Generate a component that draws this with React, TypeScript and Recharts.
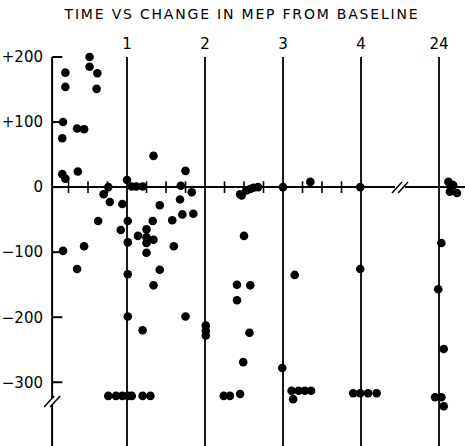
import { ScatterChart, Scatter, XAxis, YAxis, ReferenceLine, ReferenceDot } from "recharts";

// change in MEP (mmHg) vs time after dose (hours); 5 on the axis stands for 24 h
const OFF_SCALE = -321;

const firstHour: [number, number][] = [
  [0.21, 176], [0.21, 154], [0.18, 100], [0.17, 75], [0.17, 20], [0.21, 13],
  [0.37, 24], [0.36, 90], [0.45, 89], [0.52, 200], [0.52, 185], [0.62, 175],
  [0.61, 151], [0.76, 0], [0.7, -11], [0.78, -23], [0.94, -26], [0.63, -52],
  [0.92, -66], [0.18, -98], [0.36, -126], [0.45, -91],
  [0.76, OFF_SCALE], [0.86, OFF_SCALE], [0.94, OFF_SCALE],
];

const secondHour: [number, number][] = [
  [1.0, 11], [1.06, 1], [1.12, 1], [1.2, 1], [1.01, -52], [1.01, -85],
  [1.01, -134], [1.01, -199], [1.01, OFF_SCALE], [1.06, OFF_SCALE], [1.2, -220],
  [1.2, OFF_SCALE], [1.3, OFF_SCALE], [1.34, 48], [1.42, -28], [1.14, -75],
  [1.25, -65], [1.25, -77], [1.25, -86], [1.34, -81], [1.25, -101], [1.33, -52],
  [1.42, -127], [1.34, -151], [1.58, -51], [1.6, -91], [1.71, -42], [1.68, -19],
  [1.69, 2], [1.75, 25], [1.83, -8], [1.85, -41], [1.75, -199],
];

const thirdHour: [number, number][] = [
  [2.01, -213], [2.01, -221], [2.01, -228], [2.24, OFF_SCALE], [2.32, OFF_SCALE],
  [2.45, -318], [2.45, -11], [2.47, -13], [2.53, -5], [2.58, -3], [2.62, -1],
  [2.68, 0], [2.5, -75], [2.41, -150], [2.58, -151], [2.41, -174], [2.57, -224],
  [2.49, -269],
];

const fourthHour: [number, number][] = [
  [3.0, 0], [2.99, -278], [3.15, -135], [3.35, 8], [3.11, -313], [3.2, -313],
  [3.28, -313], [3.36, -313], [3.13, -326], [3.99, 0], [3.99, -126],
  [3.9, -317], [3.99, -317], [4.09, -317], [4.2, -317],
];

const day: [number, number][] = [
  [5.12, 8], [5.18, 3], [5.14, -7], [5.23, -9], [5.03, -86], [4.99, -157],
  [5.06, -249], [4.95, -323], [5.03, -323], [5.06, -337],
];

const hourTicks = [1, 2, 3, 4, 5];
const hourLabels = ["1", "2", "3", "4", "24"];
const quarterTicks = [0.25, 0.5, 0.75, 1.25, 1.5, 1.75, 2.25, 2.5, 2.75, 3.25, 3.5, 3.75];
const mepTicks = [200, 100, 0, -100, -200, -300];
const mepLabels = ["+200", "+100", "0", "\u2212100", "\u2212200", "\u2212300"];

const points = [...firstHour, ...secondHour, ...thirdHour, ...fourthHour, ...day].map(([x, y]) => ({ x, y }));

const FONT = "'DejaVu Sans', sans-serif";
const AXIS_X = 0.04;

const Dot = (p: any) => <circle cx={p.cx} cy={p.cy} r={4.3} fill="#000" />;

const Break = (p: any) => (
  <g>
    <rect x={p.cx - 5} y={p.cy - 3} width={10} height={6} fill="#fff" />
    <line x1={p.cx - 8} y1={p.cy + 6} x2={p.cx + 2} y2={p.cy - 5} stroke="#000" strokeWidth={1.5} />
    <line x1={p.cx - 2} y1={p.cy + 6} x2={p.cx + 8} y2={p.cy - 5} stroke="#000" strokeWidth={1.5} />
  </g>
);

export default function App() {
  return (
    <div style={{ position: "relative", width: 465, height: 446, background: "#fff" }}>
      <style>{"body{margin:0}"}</style>
      <div
        style={{
          position: "absolute",
          top: 6,
          left: 0,
          width: 484,
          textAlign: "center",
          fontFamily: FONT,
          fontSize: 14,
          letterSpacing: 1.8,
          color: "#000",
        }}
      >
        TIME VS CHANGE IN MEP FROM BASELINE
      </div>
      <ScatterChart width={465} height={446} margin={{ top: 30, right: 0, bottom: 0, left: 0 }}>
        <XAxis
          type="number"
          dataKey="x"
          orientation="top"
          domain={[0, 5.333]}
          ticks={hourTicks}
          tickFormatter={(v: number) => hourLabels[hourTicks.indexOf(v)]}
          axisLine={false}
          tickLine={false}
          tickSize={0}
          tickMargin={8}
          height={27}
          tick={{ fill: "#000", fontSize: 15, fontFamily: FONT }}
        />
        <YAxis
          type="number"
          dataKey="y"
          domain={[-398, 200]}
          ticks={mepTicks}
          tickFormatter={(v: number) => mepLabels[mepTicks.indexOf(v)]}
          axisLine={false}
          tickLine={false}
          tickSize={0}
          tickMargin={6}
          width={49}
          tick={{ fill: "#000", fontSize: 15, fontFamily: FONT }}
        />
        <ReferenceLine segment={[{ x: AXIS_X, y: 200 }, { x: AXIS_X, y: -398 }]} stroke="#000" strokeWidth={2} />
        {mepTicks.map((v) => (
          <ReferenceLine key={"yt" + v} segment={[{ x: AXIS_X, y: v }, { x: AXIS_X + 0.13, y: v }]} stroke="#000" strokeWidth={2} />
        ))}
        {hourTicks.map((h) => (
          <ReferenceLine key={"h" + h} x={h} stroke="#000" strokeWidth={1.8} />
        ))}
        <ReferenceLine segment={[{ x: AXIS_X, y: 0 }, { x: 5.333, y: 0 }]} stroke="#000" strokeWidth={2} />
        {quarterTicks.map((q) => (
          <ReferenceLine key={"q" + q} segment={[{ x: q, y: -9 }, { x: q, y: 9 }]} stroke="#000" strokeWidth={1.6} />
        ))}
        <ReferenceDot x={4.5} y={0} shape={Break} />
        <ReferenceDot x={AXIS_X} y={-329} shape={Break} />
        <Scatter data={points} shape={Dot} isAnimationActive={false} />
      </ScatterChart>
    </div>
  );
}
